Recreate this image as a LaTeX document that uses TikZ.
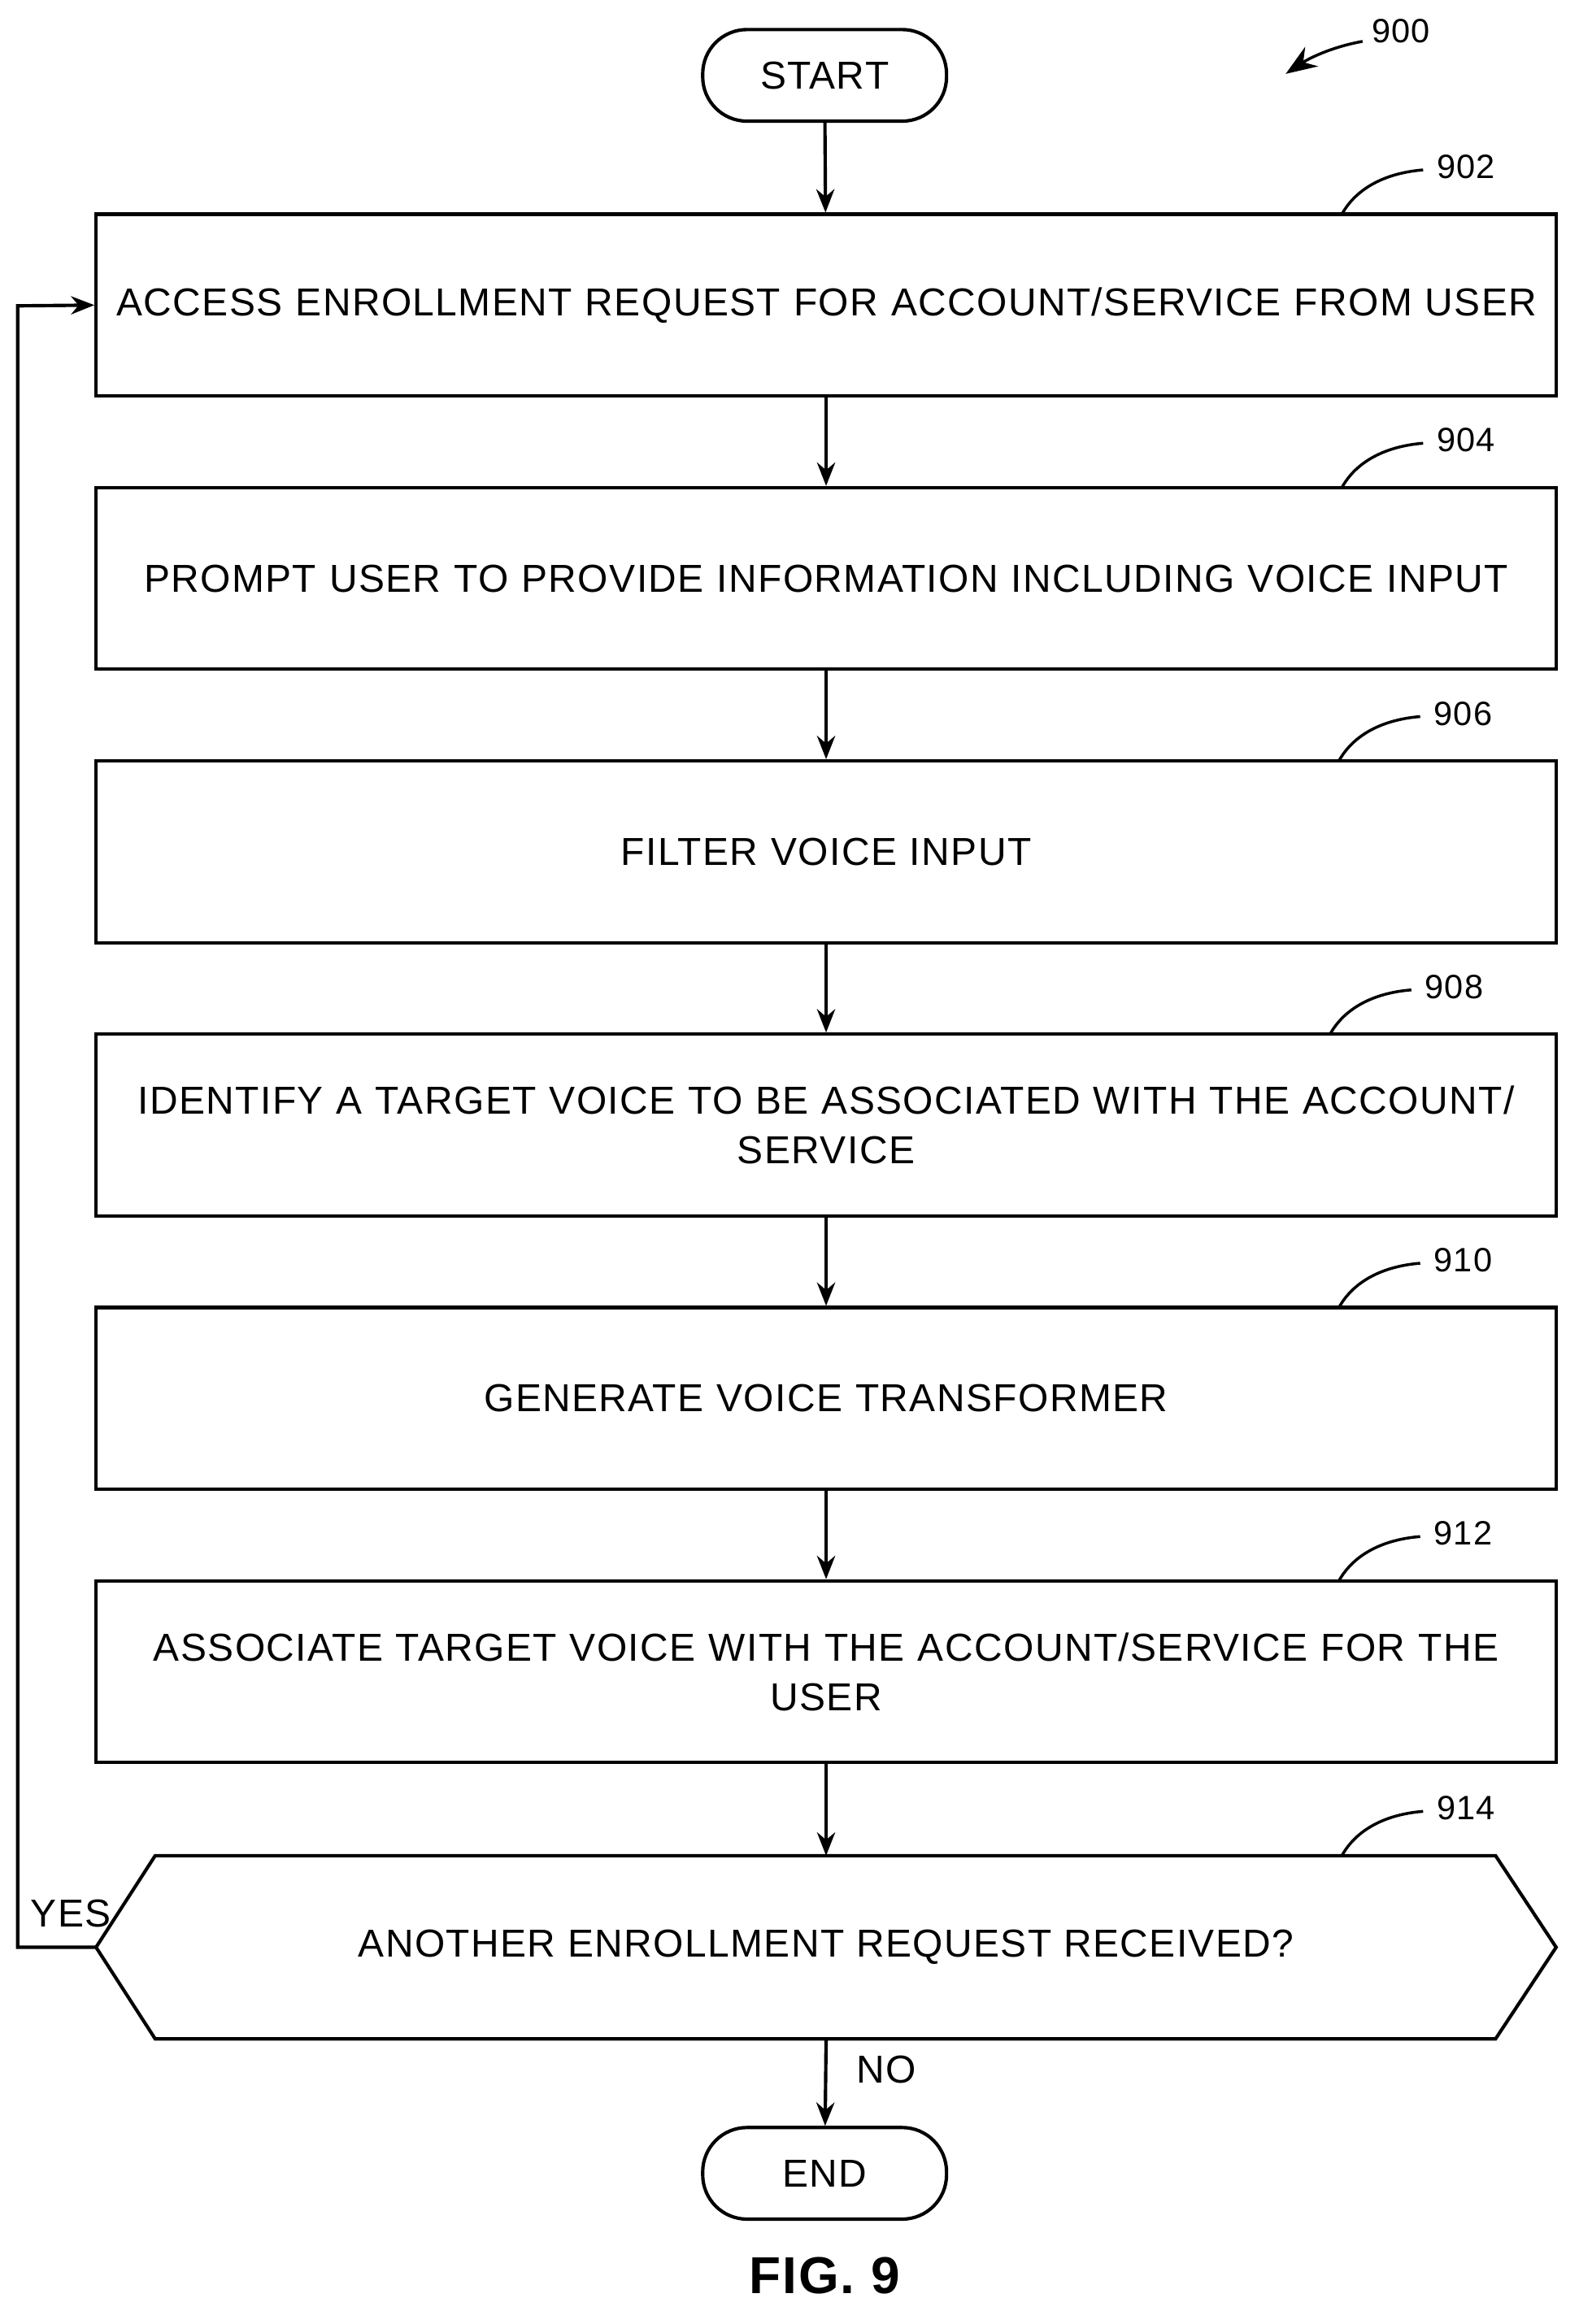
\documentclass[tikz,border=0pt]{standalone}
\usepackage{fontspec}
\setmainfont{Liberation Sans}[LetterSpace=3]
\usetikzlibrary{arrows.meta}
\begin{document}
\begin{tikzpicture}[x=0.02cm,y=-0.02cm,
  box/.style={draw,line width=1.3pt,minimum width=988*0.02cm,minimum height=123*0.02cm,align=center,text width=960*0.02cm,font=\fontsize{15}{19}\selectfont,inner sep=0pt},
  term/.style={draw,line width=1.3pt,rounded corners=30*0.02cm,minimum width=165*0.02cm,minimum height=62*0.02cm,font=\fontsize{15}{19}\selectfont},
  arr/.style={line width=1.3pt,-{Stealth[length=9pt,width=7pt]}},
  lbl/.style={font=\fontsize{13}{15}\selectfont},
  tick/.style={line width=1.1pt}]
\useasboundingbox (0,0) rectangle (1068,1573);
\node[term] (start) at (558,51) {START};
\node[box] (b902) at (559,206.5) {ACCESS ENROLLMENT REQUEST FOR ACCOUNT/SERVICE FROM USER};
\node[box] (b904) at (559,391.5) {PROMPT USER TO PROVIDE INFORMATION INCLUDING VOICE INPUT};
\node[box] (b906) at (559,576.5) {FILTER VOICE INPUT};
\node[box] (b908) at (559,761.5) {IDENTIFY A TARGET VOICE TO BE ASSOCIATED WITH THE ACCOUNT/\\SERVICE};
\node[box] (b910) at (559,946.5) {GENERATE VOICE TRANSFORMER};
\node[box] (b912) at (559,1131.5) {ASSOCIATE TARGET VOICE WITH THE ACCOUNT/SERVICE FOR THE\\USER};
\coordinate (hl) at (65,1318);
\coordinate (hr) at (1053,1318);
\draw[line width=1.3pt] (hl) -- (105,1256) -- (1012,1256) -- (hr) -- (1012,1380) -- (105,1380) -- cycle;
\node[font=\fontsize{15}{19}\selectfont] (d914) at (559,1318) {ANOTHER ENROLLMENT REQUEST RECEIVED?};
\coordinate (dtop) at (559,1256);
\coordinate (dbot) at (559,1380);
\node[term] (end) at (558,1471) {END};
\node[font=\bfseries\fontsize{20}{24}\selectfont] (fig) at (558,1540) {FIG. 9};
\draw[arr] (start) -- (b902);
\draw[arr] (b902) -- (b904);
\draw[arr] (b904) -- (b906);
\draw[arr] (b906) -- (b908);
\draw[arr] (b908) -- (b910);
\draw[arr] (b910) -- (b912);
\draw[arr] (b912) -- (dtop);
\draw[arr] (dbot) -- (end);
\draw[arr] (hl) -- (12,1318) -- (12,207) -- (b902.west);
\node[font=\fontsize{15}{19}\selectfont] (yes) at (48,1295) {YES};
\node[font=\fontsize{15}{19}\selectfont] (no) at (600,1401) {NO};
\node[lbl] (l900) at (948,21) {900};
\draw[line width=1.1pt,-{Stealth[length=12pt,width=9pt]}] (922,28) .. controls (900,32) and (885,40) .. (870,50);
\foreach \n/\y/\x in {902/145/908,904/330/908,906/515/906,908/700/900,910/885/906,912/1070/906,914/1256/908}{
  \draw[tick] (\x,\y) .. controls (\x+10,\y-18) and (\x+30,\y-28) .. (\x+55,\y-30);
  \node[lbl,anchor=west] at (\x+58,\y-32) {\n};
}
\end{tikzpicture}
\end{document}
